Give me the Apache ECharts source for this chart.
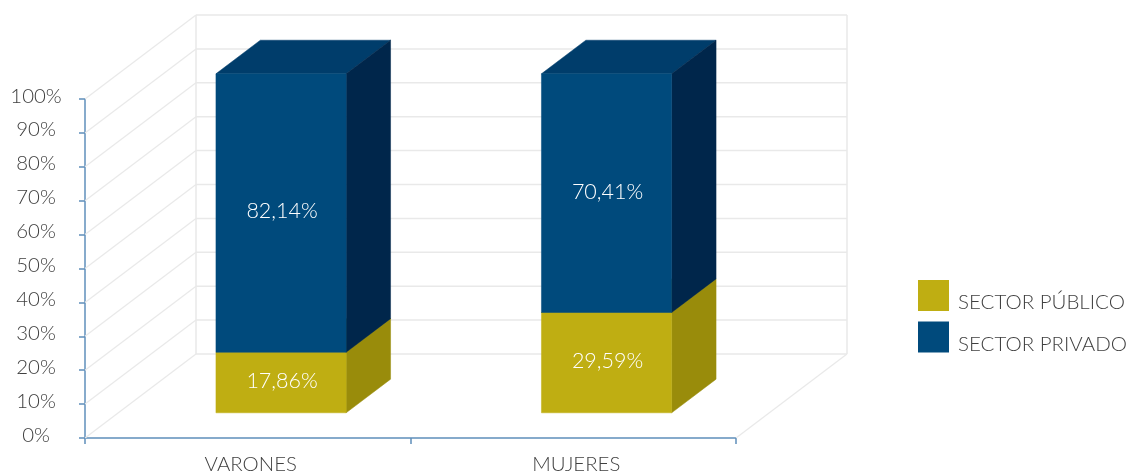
<!DOCTYPE html>
<html>
<head>
<meta charset="utf-8">
<style>html,body{margin:0;padding:0;background:#fff}#c{width:1129px;height:473px}</style>
<script src="https://cdn.jsdelivr.net/npm/echarts@6/dist/echarts.min.js"></script>
</head>
<body>
<div id="c"></div>
<script>
var categories = ['VARONES', 'MUJERES'];
var sectorPublico = [17.86, 29.59];
var sectorPrivado = [82.14, 70.41];
var yTicks = [0, 10, 20, 30, 40, 50, 60, 70, 80, 90, 100];

var FONT = 'Lato';
var TEXT = '#404040';
var DX = 111, DY = -84;         // full floor depth in pixels
var FRONT = 0.3, BACK = 0.7;    // bar position within the depth
var BAR_RATIO = 0.4;
var WALL = '#e9e9e9';

function fmt(v) { return v.toFixed(2).replace('.', ',') + '%'; }
function shift(p, k) { return [p[0] + DX * k, p[1] + DY * k]; }

function wallItem(params, api) {
  var v = api.value(0);
  var band = api.size([1, 0])[0];
  var first = api.coord([0, v]), last = api.coord([categories.length - 1, v]);
  var l = [first[0] - band / 2, first[1]];
  var r = [last[0] + band / 2, last[1]];
  var bl = shift(l, 1), br = shift(r, 1);
  var ls = { stroke: WALL, lineWidth: 1.5 };
  var thin = { stroke: WALL, lineWidth: 1.2 };
  var kids = [
    { type: 'line', shape: { x1: l[0], y1: l[1], x2: bl[0], y2: bl[1] }, style: thin },
    { type: 'line', shape: { x1: bl[0], y1: bl[1], x2: br[0], y2: br[1] }, style: ls }
  ];
  if (v === 0) {
    kids.push({ type: 'line', shape: { x1: r[0], y1: r[1], x2: br[0], y2: br[1] }, style: thin });
  }
  if (v === yTicks[yTicks.length - 1]) {
    var y0 = shift(api.coord([0, 0]), 1)[1];
    kids.push({ type: 'line', shape: { x1: bl[0], y1: bl[1], x2: bl[0], y2: y0 }, style: ls });
    kids.push({ type: 'line', shape: { x1: br[0], y1: br[1], x2: br[0], y2: y0 }, style: ls });
  }
  return { type: 'group', silent: true, children: kids };
}

function poly(points, fill) {
  return { type: 'polygon', shape: { points: points }, style: { fill: fill, stroke: fill, lineWidth: 0.5 } };
}

function barRenderer(front, side, top) {
  return function (params, api) {
    var cat = api.value(0), lo = api.value(1), hi = api.value(2);
    var band = api.size([1, 0])[0];
    var w = band * BAR_RATIO;
    var a = api.coord([cat, lo]), b = api.coord([cat, hi]);
    var x0 = a[0] - w / 2, x1 = a[0] + w / 2;
    var fbl = shift([x0, a[1]], FRONT), fbr = shift([x1, a[1]], FRONT);
    var ftl = shift([x0, b[1]], FRONT), ftr = shift([x1, b[1]], FRONT);
    var d = BACK - FRONT;
    var bbr = shift(fbr, d), btr = shift(ftr, d), btl = shift(ftl, d);
    return {
      type: 'group',
      children: [
        poly([ftl, ftr, btr, btl], top),
        poly([fbr, bbr, btr, ftr], side),
        poly([fbl, fbr, ftr, ftl], front),
        {
          type: 'text',
          x: (ftl[0] + ftr[0]) / 2 + 1,
          y: (ftl[1] + fbl[1]) / 2 - 1.5,
          style: {
            text: fmt(hi - lo),
            fill: '#ffffff',
            font: '300 21.5px ' + FONT,
            align: 'center',
            verticalAlign: 'middle'
          }
        }
      ]
    };
  };
}

var publicoData = categories.map(function (c, i) { return [i, 0, sectorPublico[i]]; });
var privadoData = categories.map(function (c, i) { return [i, sectorPublico[i], sectorPublico[i] + sectorPrivado[i]]; });

var chart = echarts.init(document.getElementById('c'), null, { renderer: 'canvas' });
chart.setOption({
  animation: false,
  backgroundColor: '#ffffff',
  textStyle: { fontFamily: FONT },
  grid: { left: 85, top: 99, width: 651, height: 339, containLabel: false, outerBoundsMode: 'none' },
  legend: {
    orient: 'vertical',
    left: 918,
    top: 278,
    padding: 0,
    itemWidth: 31,
    itemHeight: 31,
    itemGap: 6.5,
    selectedMode: false,
    icon: 'rect',
    data: ['SECTOR PÚBLICO', 'SECTOR PRIVADO'],
    formatter: '{t|{name}}',
    textStyle: {
      rich: { t: { fontFamily: FONT, fontWeight: 300, fontSize: 20.5, color: TEXT, lineHeight: 16, padding: [14, 0, 0, 4] } }
    }
  },
  xAxis: {
    type: 'category',
    data: categories,
    axisLine: { lineStyle: { color: '#5f8fbb', width: 1.5 } },
    axisTick: { show: true, alignWithLabel: false, length: 6, lineStyle: { color: '#5f8fbb', width: 1.5 } },
    axisLabel: { color: TEXT, fontFamily: FONT, fontWeight: 300, fontSize: 20.4, margin: 16, padding: [0, 0, 0, 6] },
    splitLine: { show: false }
  },
  yAxis: {
    type: 'value',
    min: 0,
    max: 100,
    interval: 10,
    axisLine: { show: true, lineStyle: { color: '#5f8fbb', width: 1.5 } },
    axisTick: { show: true, length: 6, lineStyle: { color: '#5f8fbb', width: 1.5 } },
    axisLabel: {
      margin: 49, align: 'center',
      formatter: '{t|{value}%}',
      rich: { t: { color: TEXT, fontFamily: FONT, fontWeight: 300, fontSize: 20.4, lineHeight: 20, padding: [0, 0, 6, 0] } }
    },
    splitLine: { show: false }
  },
  series: [
    {
      type: 'custom', name: 'walls', coordinateSystem: 'cartesian2d', clip: false, silent: true, z: 1,
      encode: { y: 0 },
      data: yTicks.map(function (t) { return [t]; }),
      renderItem: wallItem
    },
    {
      type: 'custom', name: 'SECTOR PÚBLICO', coordinateSystem: 'cartesian2d', clip: false, z: 3,
      itemStyle: { color: '#bfae12' },
      encode: { x: 0, y: [1, 2] },
      data: publicoData,
      renderItem: barRenderer('#bfae12', '#998c0b', '#a89a0e')
    },
    {
      type: 'custom', name: 'SECTOR PRIVADO', coordinateSystem: 'cartesian2d', clip: false, z: 3,
      itemStyle: { color: '#004a7c' },
      encode: { x: 0, y: [1, 2] },
      data: privadoData,
      renderItem: barRenderer('#004a7c', '#00264b', '#003d6b')
    }
  ]
});
</script>
</body>
</html>
